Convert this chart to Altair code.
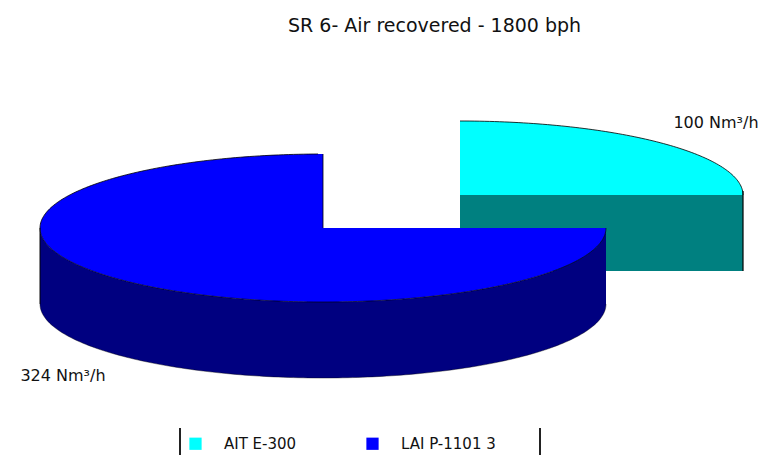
import numpy as np
import pandas as pd
import altair as alt

# --- values ---
title_text = "SR 6- Air recovered - 1800 bph"
slice_names = ["AIT E-300", "LAI P-1101 3"]
slice_labels = ["100 Nm³/h", "324 Nm³/h"]
slice_colors = ["#00FFFF", "#0000FF"]
side_colors = ["#008080", "#000080"]

# --- layout, in reference pixels ---
W, H = 753, 447
x_dom = [8, 761]
y_dom = [455, 8]
cyan_c = (460, 195)
blue_c = (323, 228)
rx, ry, depth = 283, 74, 76
label_x = [716, 63]
label_y = [123, 376]
frame_x = [180, 540]
frame_top, frame_bottom = 428, 455

X = alt.X("x:Q", scale=alt.Scale(domain=x_dom, nice=False, zero=False), axis=None)
Y = alt.Y("y:Q", scale=alt.Scale(domain=y_dom, nice=False, zero=False), axis=None)
Y2 = alt.Y2("y2")
COLOR = alt.Color(
    "name:N",
    scale=alt.Scale(domain=slice_names, range=slice_colors),
    sort=slice_names,
    legend=alt.Legend(
        orient="none", legendX=180, legendY=428, direction="horizontal", columns=2,
        title=None, symbolType="square", symbolSize=150, symbolStrokeWidth=0,
        labelFont="DejaVu Sans", labelFontSize=15, labelColor="#111111",
        labelOffset=21, columnPadding=68, padding=0,
    ),
)


def area(df, **kw):
    return alt.Chart(df).mark_area(orient="vertical", **kw).encode(x=X, y=Y, y2=Y2)


def outline(xs, ys, w=1.0):
    df = pd.DataFrame({"x": xs, "y": ys, "i": range(len(xs))})
    return alt.Chart(df).mark_line(color="#000000", strokeWidth=w, opacity=0.8).encode(
        x=X, y=Y, order="i:Q"
    )


# angles for half ellipses, left to right
t = np.linspace(np.pi, 0, 181)

# cyan slice: the quarter from 12 o'clock to 3 o'clock
cx, cy = cyan_c
tq = t[t <= np.pi / 2]
cyan_top = pd.DataFrame({"x": cx + rx * np.cos(tq), "y": cy - ry * np.sin(tq), "y2": cy, "name": slice_names[0]})
cyan_side = pd.DataFrame({"x": [cx, cx + rx], "y": [cy, cy], "y2": [cy + depth, cy + depth]})

# blue slice: the remaining three quarters
bx, by = blue_c
xs = bx + rx * np.cos(t)
up = by - ry * np.sin(t)
low = by + ry * np.sin(t)
left = t > np.pi / 2
right = ~left
blue_x = np.r_[xs[left], bx, bx, xs[right][1:]]
blue_y = np.r_[up[left], by - ry, by, np.full(right.sum() - 1, by)]
blue_y2 = np.r_[low[left], by + ry, by + ry, low[right][1:]]
blue_top = pd.DataFrame({"x": blue_x, "y": blue_y, "y2": blue_y2, "name": slice_names[1]})
blue_side = pd.DataFrame({"x": xs, "y": low, "y2": low + depth})

layers = [
    area(cyan_side, color=side_colors[0]),
    area(cyan_top).encode(color=COLOR),
    outline(cx + rx * np.cos(tq), cy - ry * np.sin(tq)),
    outline([cx + rx, cx + rx], [cy - 4, cy + depth], 1.5),
    area(blue_side, color=side_colors[1]),
    area(blue_top).encode(color=COLOR),
    outline(xs[left], up[left]),
    outline([bx, bx], [by - ry, by]),
    outline(xs, low, 0.8),
    outline(xs, low + depth, 0.5),
    outline([bx - rx, bx - rx], [by, by + depth], 1.2),
]

labels = pd.DataFrame({"x": label_x, "y": label_y, "t": slice_labels})
layers.append(
    alt.Chart(labels).mark_text(font="DejaVu Sans", fontSize=16, color="#111111").encode(x=X, y=Y, text="t:N")
)
frame = pd.DataFrame({"x": frame_x, "y": [frame_top] * 2, "y2": [frame_bottom] * 2})
layers.append(alt.Chart(frame).mark_rule(color="#222222", strokeWidth=2).encode(x=X, y=Y, y2=Y2))

chart = (
    alt.layer(*layers)
    .properties(
        width=W, height=H, padding=0,
        autosize=alt.AutoSizeParams(type="none"),
        background="white",
        title=alt.TitleParams(
            title_text, anchor="start", dx=280, dy=41, baseline="middle",
            font="DejaVu Sans", fontSize=19, fontWeight="normal", color="#111111",
        ),
    )
    .configure_view(stroke=None)
)
chart.save("out.html", embed_options={"renderer": "svg", "actions": False})
